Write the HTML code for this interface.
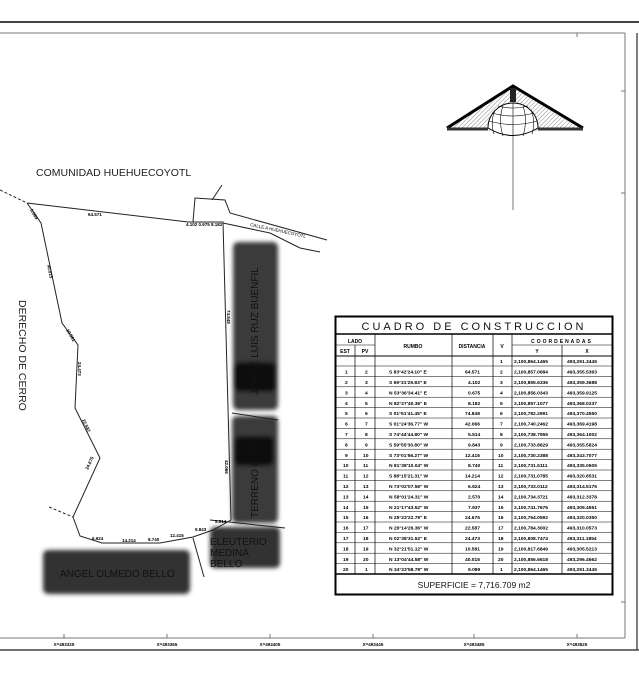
<!DOCTYPE html>
<html><head><meta charset="utf-8"><style>
html,body{margin:0;padding:0;background:#fff}
svg{display:block}
text{font-family:"Liberation Sans",sans-serif}
.t{font-size:5px;font-weight:bold;fill:#000}
</style></head><body>
<svg width="639" height="685" viewBox="0 0 639 685" xmlns="http://www.w3.org/2000/svg">
<defs>
<filter id="bl" x="-20%" y="-20%" width="140%" height="140%"><feGaussianBlur stdDeviation="2.2"/></filter>
<pattern id="hat" width="3" height="3" patternUnits="userSpaceOnUse" patternTransform="rotate(45)"><line x1="0" y1="0" x2="0" y2="3" stroke="#888" stroke-width="1"/></pattern>
</defs>
<line x1="0" y1="22" x2="639" y2="22" stroke="#444" stroke-width="2"/>
<line x1="0" y1="33" x2="625" y2="33" stroke="#777" stroke-width="1"/>
<line x1="625" y1="33" x2="625" y2="638" stroke="#777" stroke-width="1"/>
<line x1="637" y1="33" x2="637" y2="650" stroke="#555" stroke-width="1.5"/>
<line x1="0" y1="638" x2="625" y2="638" stroke="#777" stroke-width="1"/>
<line x1="0" y1="650" x2="639" y2="650" stroke="#444" stroke-width="1.5"/>
<line x1="577" y1="33" x2="577" y2="37" stroke="#777"/>
<line x1="621" y1="91" x2="625" y2="91" stroke="#777"/>
<line x1="621" y1="193" x2="625" y2="193" stroke="#777"/>
<line x1="621" y1="602" x2="625" y2="602" stroke="#777"/>
<g stroke="#777">
<line x1="64" y1="634" x2="64" y2="638"/><line x1="167" y1="634" x2="167" y2="638"/><line x1="270" y1="634" x2="270" y2="638"/><line x1="373" y1="634" x2="373" y2="638"/><line x1="474" y1="634" x2="474" y2="638"/><line x1="577" y1="634" x2="577" y2="638"/>
</g>
<g class="t" text-anchor="middle" style="font-size:4.5px">
<text x="64" y="646">X=493325</text><text x="167" y="646">X=493365</text><text x="270" y="646">X=493405</text><text x="373" y="646">X=493445</text><text x="474" y="646">X=493485</text><text x="577" y="646">X=493525</text>
</g>
<polygon points="447,128 513,86 583,128 540,128 540,131 486,131 486,128" fill="url(#hat)"/>
<polyline points="447,128 513,86 583,128" fill="none" stroke="#000" stroke-width="3"/>
<line x1="447" y1="129" x2="488" y2="129" stroke="#333" stroke-width="3"/>
<line x1="538" y1="129" x2="583" y2="129" stroke="#333" stroke-width="3"/>
<path d="M488,128 A25,25 0 0 1 538,128 Q513,143 488,128Z" fill="#fff" stroke="#000" stroke-width="1"/>
<g fill="none" stroke="#000" stroke-width="0.6">
<path d="M492,113 Q513,119 534,113"/><path d="M489,121 Q513,128 537,121"/><path d="M498,106 Q513,110 528,106"/>
<path d="M513,103 L513,137"/><path d="M503,106 Q498,120 503,136"/><path d="M523,106 Q528,120 523,136"/><path d="M495,110 Q490,122 494,134"/><path d="M531,110 Q536,122 532,134"/>
</g>
<rect x="510" y="88" width="6" height="14" fill="#222"/>
<line x1="513" y1="137" x2="513" y2="210" stroke="#777" stroke-width="1"/>
<g filter="url(#bl)">
<rect x="233" y="242" width="45" height="168" rx="5" fill="#3a3a3a"/>
<rect x="234" y="362" width="42" height="30" rx="6" fill="#111"/>
<rect x="232" y="416" width="46" height="107" rx="5" fill="#3a3a3a"/>
<rect x="234" y="436" width="40" height="30" rx="6" fill="#111"/>
<rect x="210" y="527" width="70" height="41" rx="5" fill="#333"/>
<rect x="43" y="550" width="147" height="44" rx="5" fill="#333"/>
</g>
<g fill="#111" style="font-size:10px">
<text transform="translate(258,395) rotate(-90)">JORGE LUIS RUZ BUENFIL</text>
<text transform="translate(258,518) rotate(-90)">TERRENO EJIDO</text>
<text x="210" y="545">ELEUTERIO</text><text x="210" y="556">MEDINA</text><text x="210" y="567">BELLO</text>
<text x="60" y="577">ANGEL OLMEDO BELLO</text>
</g>
<g fill="none" stroke="#222" stroke-width="1">
<polyline points="27,203 188,222 192,222 223,222 231,520 213,530 193,537 160,543 102,543 80,536 73,517 100,458 75,408 78,345 62,323 41,223 27,203"/>
<line x1="0" y1="190" x2="27" y2="203" stroke-dasharray="3,2"/>
<line x1="49" y1="507" x2="73" y2="517" stroke-dasharray="3,2"/>
<polyline points="193,222 195,198 225,200 230,213 327,240"/>
<polyline points="223,223 270,233 300,248 320,252"/>
<line x1="212" y1="200" x2="222" y2="185"/>
<line x1="232" y1="413" x2="278" y2="420"/>
<line x1="210" y1="520" x2="285" y2="528"/>
<line x1="193" y1="538" x2="204" y2="577"/>
</g>
<g class="t" style="font-size:4.5px">
<text x="88" y="216">64.571</text>
<text transform="translate(30,210) rotate(60)">5.089</text>
<text transform="translate(47,265) rotate(78)">40.015</text>
<text transform="translate(66,330) rotate(60)">10.581</text>
<text transform="translate(78,362) rotate(90)">24.473</text>
<text transform="translate(82,420) rotate(65)">22.587</text>
<text transform="translate(88,470) rotate(-65)">24.675</text>
<text x="92" y="540">6.624</text><text x="122" y="542">14.214</text><text x="148" y="541">8.740</text><text x="170" y="537">12.415</text><text x="195" y="531">9.843</text><text x="215" y="523">5.514</text>
<text transform="translate(227,310) rotate(90)">74.848</text>
<text transform="translate(225,460) rotate(90)">42.066</text>
<text x="186" y="226">4.102 0.675 8.182</text>
<text transform="translate(250,226) rotate(12)" style="font-weight:normal">CALLE A HUEHUECOYOTL</text>
</g>
<text x="36" y="176" style="font-size:10.5px" fill="#222">COMUNIDAD HUEHUECOYOTL</text>
<text transform="translate(19,300) rotate(90)" style="font-size:10.5px" fill="#222">DERECHO DE CERRO</text>
<g stroke="#000" fill="none">
<rect x="335.5" y="316.5" width="277" height="278" stroke-width="2"/>
<line x1="335" y1="334" x2="612" y2="334" stroke-width="1.5"/>
<line x1="335" y1="356" x2="612" y2="356"/>
<line x1="335" y1="574" x2="612" y2="574" stroke-width="1.5"/>
<line x1="335" y1="345" x2="375" y2="345" stroke-width="0.6"/>
<line x1="512" y1="345" x2="612" y2="345" stroke-width="0.6"/>
<g stroke-width="0.7">
<line x1="355" y1="345" x2="355" y2="574"/><line x1="375" y1="334" x2="375" y2="574"/><line x1="452" y1="334" x2="452" y2="574"/><line x1="493" y1="334" x2="493" y2="574"/><line x1="512" y1="334" x2="512" y2="574"/><line x1="562" y1="345" x2="562" y2="574"/>
</g>
</g>
<text x="474" y="330" text-anchor="middle" style="font-size:11px;letter-spacing:3px" fill="#111">CUADRO DE CONSTRUCCION</text>
<g class="t" text-anchor="middle">
<text x="355" y="343">LADO</text><text x="345" y="353">EST</text><text x="365" y="353">PV</text>
<text x="413" y="348">RUMBO</text><text x="472" y="348">DISTANCIA</text><text x="502" y="348">V</text>
<text x="562" y="343" style="letter-spacing:2px">COORDENADAS</text><text x="537" y="353">Y</text><text x="587" y="353">X</text>
</g>
<g class="t" style="font-size:4.9px">
<text y="363"><tspan x="500">1</tspan><tspan x="514">2,100,864.1465</tspan><tspan x="567">493,291.3445</tspan></text>
<text y="373.6"><tspan x="345">1</tspan><tspan x="365">2</tspan><tspan x="389">S 83°42'24.10" E</tspan><tspan x="465">64.571</tspan><tspan x="500">2</tspan><tspan x="514">2,100,857.0684</tspan><tspan x="567">493,355.5363</tspan></text>
<text y="384"><tspan x="345">2</tspan><tspan x="365">3</tspan><tspan x="389">S 69°31'29.83" E</tspan><tspan x="468">4.102</tspan><tspan x="500">3</tspan><tspan x="514">2,100,855.6336</tspan><tspan x="567">493,359.3688</tspan></text>
<text y="394.4"><tspan x="345">3</tspan><tspan x="365">4</tspan><tspan x="389">N 53°36'34.41" E</tspan><tspan x="468">0.675</tspan><tspan x="500">4</tspan><tspan x="514">2,100,856.0343</tspan><tspan x="567">493,359.9125</tspan></text>
<text y="404.8"><tspan x="345">4</tspan><tspan x="365">5</tspan><tspan x="389">N 82°27'40.36" E</tspan><tspan x="468">8.182</tspan><tspan x="500">5</tspan><tspan x="514">2,100,857.1077</tspan><tspan x="567">493,368.0237</tspan></text>
<text y="415.2"><tspan x="345">5</tspan><tspan x="365">6</tspan><tspan x="389">S 01°51'41.45" E</tspan><tspan x="465">74.848</tspan><tspan x="500">6</tspan><tspan x="514">2,100,782.2991</tspan><tspan x="567">493,370.4550</tspan></text>
<text y="425.6"><tspan x="345">6</tspan><tspan x="365">7</tspan><tspan x="389">S 01°24'36.77" W</tspan><tspan x="465">42.066</tspan><tspan x="500">7</tspan><tspan x="514">2,100,740.2462</tspan><tspan x="567">493,369.4198</tspan></text>
<text y="436"><tspan x="345">7</tspan><tspan x="365">8</tspan><tspan x="389">S 74°44'44.80" W</tspan><tspan x="468">5.514</tspan><tspan x="500">8</tspan><tspan x="514">2,100,738.7955</tspan><tspan x="567">493,364.1002</tspan></text>
<text y="446.4"><tspan x="345">8</tspan><tspan x="365">9</tspan><tspan x="389">S 59°55'30.80" W</tspan><tspan x="468">9.843</tspan><tspan x="500">9</tspan><tspan x="514">2,100,733.8629</tspan><tspan x="567">493,355.5824</tspan></text>
<text y="456.8"><tspan x="345">9</tspan><tspan x="363">10</tspan><tspan x="389">S 73°01'56.27" W</tspan><tspan x="465">12.415</tspan><tspan x="498">10</tspan><tspan x="514">2,100,730.2388</tspan><tspan x="567">493,343.7077</tspan></text>
<text y="467.2"><tspan x="343">10</tspan><tspan x="363">11</tspan><tspan x="389">N 81°38'10.04" W</tspan><tspan x="468">8.740</tspan><tspan x="498">11</tspan><tspan x="514">2,100,731.5111</tspan><tspan x="567">493,335.0605</tspan></text>
<text y="477.6"><tspan x="343">11</tspan><tspan x="363">12</tspan><tspan x="389">S 88°15'21.31" W</tspan><tspan x="465">14.214</tspan><tspan x="498">12</tspan><tspan x="514">2,100,731.0785</tspan><tspan x="567">493,320.8531</tspan></text>
<text y="488"><tspan x="343">12</tspan><tspan x="363">13</tspan><tspan x="389">N 73°02'07.56" W</tspan><tspan x="468">6.624</tspan><tspan x="498">13</tspan><tspan x="514">2,100,733.0112</tspan><tspan x="567">493,314.5176</tspan></text>
<text y="498.4"><tspan x="343">13</tspan><tspan x="363">14</tspan><tspan x="389">N 58°01'24.31" W</tspan><tspan x="468">2.570</tspan><tspan x="498">14</tspan><tspan x="514">2,100,734.3721</tspan><tspan x="567">493,312.3378</tspan></text>
<text y="508.8"><tspan x="343">14</tspan><tspan x="363">15</tspan><tspan x="389">N 21°17'43.52" W</tspan><tspan x="468">7.937</tspan><tspan x="498">15</tspan><tspan x="514">2,100,741.7676</tspan><tspan x="567">493,309.4551</tspan></text>
<text y="519.2"><tspan x="343">15</tspan><tspan x="363">16</tspan><tspan x="389">N 25°23'22.79" E</tspan><tspan x="465">24.675</tspan><tspan x="498">16</tspan><tspan x="514">2,100,764.0592</tspan><tspan x="567">493,320.0350</tspan></text>
<text y="529.6"><tspan x="343">16</tspan><tspan x="363">17</tspan><tspan x="389">N 26°14'26.36" W</tspan><tspan x="465">22.587</tspan><tspan x="498">17</tspan><tspan x="514">2,100,784.3002</tspan><tspan x="567">493,310.0573</tspan></text>
<text y="540"><tspan x="343">17</tspan><tspan x="363">18</tspan><tspan x="389">N 02°38'31.52" E</tspan><tspan x="465">24.473</tspan><tspan x="498">18</tspan><tspan x="514">2,100,808.7474</tspan><tspan x="567">493,311.1854</tspan></text>
<text y="550.4"><tspan x="343">18</tspan><tspan x="363">19</tspan><tspan x="389">N 32°21'51.12" W</tspan><tspan x="465">10.581</tspan><tspan x="498">19</tspan><tspan x="514">2,100,817.6849</tspan><tspan x="567">493,305.5213</tspan></text>
<text y="560.8"><tspan x="343">19</tspan><tspan x="363">20</tspan><tspan x="389">N 13°04'44.58" W</tspan><tspan x="465">40.015</tspan><tspan x="498">20</tspan><tspan x="514">2,100,856.6618</tspan><tspan x="567">493,296.4662</tspan></text>
<text y="571.2"><tspan x="343">20</tspan><tspan x="365">1</tspan><tspan x="389">N 34°23'58.78" W</tspan><tspan x="468">9.089</tspan><tspan x="500">1</tspan><tspan x="514">2,100,864.1465</tspan><tspan x="567">493,291.3445</tspan></text>
</g>
<g stroke="#000" stroke-width="0.5">
<line x1="335" y1="366" x2="612" y2="366"/><line x1="335" y1="376.4" x2="612" y2="376.4"/><line x1="335" y1="386.8" x2="612" y2="386.8"/><line x1="335" y1="397.2" x2="612" y2="397.2"/><line x1="335" y1="407.6" x2="612" y2="407.6"/><line x1="335" y1="418" x2="612" y2="418"/><line x1="335" y1="428.4" x2="612" y2="428.4"/><line x1="335" y1="438.8" x2="612" y2="438.8"/><line x1="335" y1="449.2" x2="612" y2="449.2"/><line x1="335" y1="459.6" x2="612" y2="459.6"/><line x1="335" y1="470" x2="612" y2="470"/><line x1="335" y1="480.4" x2="612" y2="480.4"/><line x1="335" y1="490.8" x2="612" y2="490.8"/><line x1="335" y1="501.2" x2="612" y2="501.2"/><line x1="335" y1="511.6" x2="612" y2="511.6"/><line x1="335" y1="522" x2="612" y2="522"/><line x1="335" y1="532.4" x2="612" y2="532.4"/><line x1="335" y1="542.8" x2="612" y2="542.8"/><line x1="335" y1="553.2" x2="612" y2="553.2"/><line x1="335" y1="563.6" x2="612" y2="563.6"/>
</g>
<text x="474" y="588" text-anchor="middle" style="font-size:8.5px" fill="#111">SUPERFICIE = 7,716.709 m2</text>
</svg>
</body></html>
